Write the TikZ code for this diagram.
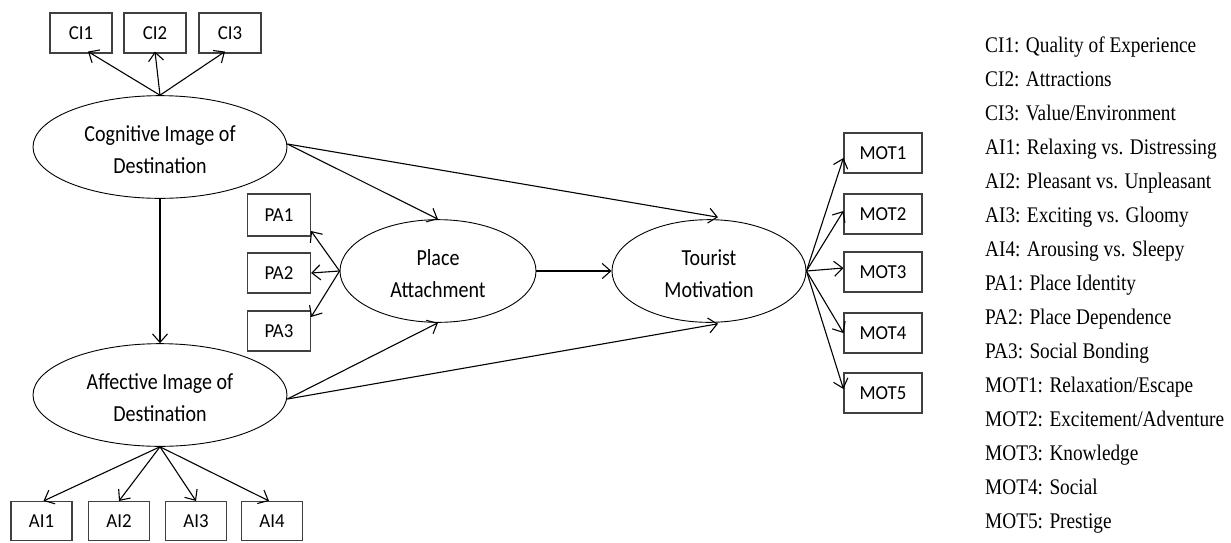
\documentclass[tikz,border=0pt]{standalone}
\usepackage{fontspec}
\setmainfont{Carlito}
\newfontfamily\latentfont[FakeStretch=0.87]{Carlito}
\newfontfamily\boxfont[FakeStretch=0.95]{Carlito}
\newfontfamily\legendfont[FakeStretch=0.865]{Liberation Serif}
\usetikzlibrary{shapes.geometric,arrows.meta}
% two-line label for a latent construct, set slightly below the centre
\newcommand{\twolines}[2]{\begin{tabular}{@{}c@{}}\rule{0pt}{31pt}#1\\#2\end{tabular}}
\begin{document}
\begin{tikzpicture}[x=1pt,y=-1pt,
  indicator/.style={draw=black!75,line width=1.1pt,inner sep=0pt,
    minimum height=40pt,font=\boxfont\fontsize{19.8}{22}\selectfont},
  latent/.style={draw,ellipse,line width=0.9pt,inner sep=0pt,
    font=\latentfont\fontsize{23}{32}\selectfont},
  path/.style={line width=1.1pt,-{Straight Barb[length=8.5pt,width=15pt,line width=1.1pt]}},
  legend/.style={anchor=base west,inner sep=0pt,font=\legendfont\fontsize{22.3}{26}\selectfont}]
\useasboundingbox (0,0) rectangle (1231,542);

% latent constructs
\node[latent,minimum width=254pt,minimum height=92pt] (cog) at (160,147) {\twolines{Cognitive Image of}{Destination}};
\node[latent,minimum width=254pt,minimum height=90pt] (aff) at (160,395) {\twolines{Affective Image of}{Destination}};
\node[latent,minimum width=196pt,minimum height=90pt] (pa)  at (438,271) {\twolines{Place}{Attachment}};
\node[latent,minimum width=194pt,minimum height=92pt] (tm)  at (709,271) {\twolines{Tourist}{Motivation}};

% indicators
\node[indicator,minimum width=62pt] (ci1) at (81,33)  {CI1};
\node[indicator,minimum width=62pt] (ci2) at (155,33) {CI2};
\node[indicator,minimum width=62pt] (ci3) at (230,33) {CI3};
\node[indicator,minimum width=61pt,minimum height=39pt] (ai1) at (41.5,521) {AI1};
\node[indicator,minimum width=61pt,minimum height=39pt] (ai2) at (119,521)  {AI2};
\node[indicator,minimum width=61pt,minimum height=39pt] (ai3) at (196,521)  {AI3};
\node[indicator,minimum width=61pt,minimum height=39pt] (ai4) at (272,521)  {AI4};
\node[indicator,minimum width=63pt,minimum height=42pt] (pa1) at (279,215) {PA1};
\node[indicator,minimum width=63pt] (pa2) at (279,273) {PA2};
\node[indicator,minimum width=63pt] (pa3) at (279,331) {PA3};
\node[indicator,minimum width=78pt] (mot1) at (883,153) {MOT1};
\node[indicator,minimum width=78pt] (mot2) at (883,214) {MOT2};
\node[indicator,minimum width=78pt] (mot3) at (883,272) {MOT3};
\node[indicator,minimum width=78pt] (mot4) at (883,333) {MOT4};
\node[indicator,minimum width=78pt] (mot5) at (883,393) {MOT5};

% measurement paths
\draw[path] (cog.north) -- ([xshift=7pt,yshift=2pt]ci1.south);
\draw[path] (cog.north) -- ([yshift=2pt]ci2.south);
\draw[path] (cog.north) -- ([xshift=-5pt,yshift=2pt]ci3.south);
\draw[path] (aff.south) -- ([xshift=2pt]ai1.north);
\draw[path] (aff.south) -- (ai2.north);
\draw[path] (aff.south) -- (ai3.north);
\draw[path] (aff.south) -- ([xshift=-3pt]ai4.north);
\draw[path] (pa.west) -- ([yshift=-16pt]pa1.east);
\draw[path] (pa.west) -- (pa2.east);
\draw[path] (pa.west) -- ([yshift=14pt]pa3.east);
\draw[path] (tm.east) -- ([yshift=-5pt]mot1.west);
\draw[path] (tm.east) -- ([yshift=3pt]mot2.west);
\draw[path] (tm.east) -- ([yshift=4pt]mot3.west);
\draw[path] (tm.east) -- (mot4.west);
\draw[path] (tm.east) -- ([yshift=4pt]mot5.west);

% structural paths
\draw[path] (cog.south) -- (aff.north);
\draw[path] ([yshift=3pt]cog.east) -- (pa.north);
\draw[path] ([yshift=3pt]cog.east) -- ([xshift=9pt,yshift=2pt]tm.north);
\draw[path] ([yshift=-4pt]aff.east) -- (pa.south);
\draw[path] ([yshift=-4pt]aff.east) -- ([xshift=9pt,yshift=-1pt]tm.south);
\draw[path] (pa.east) -- (tm.west);

% legend
\node[legend] (l1)  at (985,52)  {CI1: Quality of Experience};
\node[legend] (l2)  at (985,86)  {CI2: Attractions};
\node[legend] (l3)  at (985,120) {CI3: Value/Environment};
\node[legend] (l4)  at (985,154) {AI1: Relaxing vs. Distressing};
\node[legend] (l5)  at (985,188) {AI2: Pleasant vs. Unpleasant};
\node[legend] (l6)  at (985,222) {AI3: Exciting vs. Gloomy};
\node[legend] (l7)  at (985,256) {AI4: Arousing vs. Sleepy};
\node[legend] (l8)  at (985,290) {PA1: Place Identity};
\node[legend] (l9)  at (985,324) {PA2: Place Dependence};
\node[legend] (l10) at (985,358) {PA3: Social Bonding};
\node[legend] (l11) at (985,392) {MOT1: Relaxation/Escape};
\node[legend] (l12) at (985,426) {MOT2: Excitement/Adventure};
\node[legend] (l13) at (985,460) {MOT3: Knowledge};
\node[legend] (l14) at (985,494) {MOT4: Social};
\node[legend] (l15) at (985,528) {MOT5: Prestige};
\end{tikzpicture}
\end{document}
